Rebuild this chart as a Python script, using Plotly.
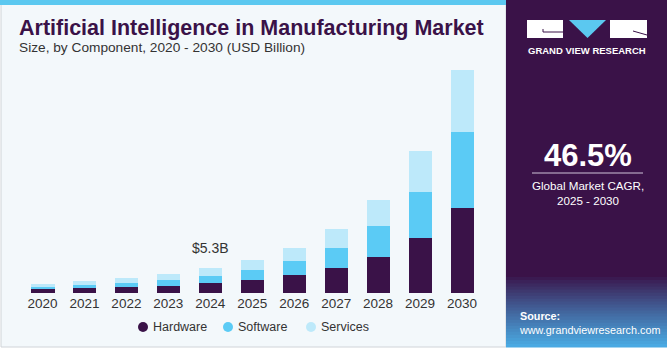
import plotly.graph_objects as go

years = ["2020", "2021", "2022", "2023", "2024", "2025", "2026", "2027", "2028", "2029", "2030"]
hardware = [0.79, 1.01, 1.29, 1.57, 2.08, 2.79, 3.86, 5.43, 7.79, 11.74, 18.24]
software = [0.56, 0.71, 0.92, 1.22, 1.57, 2.15, 3.07, 4.29, 6.59, 10.00, 16.30]
services = [0.64, 0.79, 0.94, 1.29, 1.65, 2.15, 2.73, 3.95, 5.58, 8.67, 13.30]
series_names = ["Hardware", "Software", "Services"]
series_colors = ["#3A1248", "#5BCBF5", "#BDE9FA"]
label_2024 = "$5.3B"

W, H = 670, 350
def px(x):
    return x / W
def py(y):
    return 1 - y / H

fig = go.Figure()
for name, vals, col in zip(series_names, [hardware, software, services], series_colors):
    fig.add_trace(go.Bar(x=years, y=vals, name=name, marker=dict(color=col, line=dict(width=0)),
                         width=0.55, hoverinfo="x+y+name", showlegend=False))

shapes = []
# left background
shapes.append(dict(type="rect", xref="paper", yref="paper", x0=px(1), x1=px(506), y0=py(347), y1=py(0),
                   fillcolor="#F3F8FB", line=dict(color="#D0D4D8", width=1), layer="below"))
# top blue strip
shapes.append(dict(type="rect", xref="paper", yref="paper", x0=px(0), x1=px(506), y0=py(5), y1=py(0),
                   fillcolor="#5BC8F0", line=dict(width=0), layer="below"))
# right panel
shapes.append(dict(type="rect", xref="paper", yref="paper", x0=px(506), x1=px(667), y0=py(347), y1=py(0),
                   fillcolor="#3A1248", line=dict(width=0), layer="below"))

# gradient source box
def lerp(c1, c2, t):
    a = [int(c1[i:i+2], 16) for i in (1, 3, 5)]
    b = [int(c2[i:i+2], 16) for i in (1, 3, 5)]
    return "#%02x%02x%02x" % tuple(int(a[k] + (b[k] - a[k]) * t) for k in range(3))
n = 24
y_start, y_end = 274, 347
for i in range(n):
    t = i / (n - 1)
    c = lerp("#3A1248", "#4AA9E2", t ** 0.9)
    y0 = y_start + (y_end - y_start) * i / n
    y1 = y_start + (y_end - y_start) * (i + 1) / n
    shapes.append(dict(type="rect", xref="paper", yref="paper", x0=px(506), x1=px(667), y0=py(y1 + 0.5), y1=py(y0),
                       fillcolor=c, line=dict(width=0), layer="below"))

# logo
shapes.append(dict(type="rect", xref="paper", yref="paper", x0=px(527), x1=px(563), y0=py(38), y1=py(20),
                   fillcolor="white", line=dict(width=0)))
shapes.append(dict(type="rect", xref="paper", yref="paper", x0=px(610), x1=px(647), y0=py(38), y1=py(20),
                   fillcolor="white", line=dict(width=0)))
shapes.append(dict(type="path", xref="paper", yref="paper",
                   path="M %f %f L %f %f L %f %f Z" % (px(569), py(20), px(606), py(20), px(587.5), py(38)),
                   fillcolor="#5BC8F0", line=dict(width=0)))
shapes.append(dict(type="path", xref="paper", yref="paper",
                   path="M %f %f L %f %f L %f %f" % (px(543), py(29), px(543), py(32), px(563), py(32)),
                   line=dict(color="#3A1248", width=1)))
shapes.append(dict(type="line", xref="paper", yref="paper", x0=px(633), y0=py(31), x1=px(647), y1=py(35),
                   line=dict(color="#3A1248", width=1)))
# CAGR divider
shapes.append(dict(type="line", xref="paper", yref="paper", x0=px(532), y0=py(173), x1=px(643), y1=py(173),
                   line=dict(color="#CFC3D8", width=1)))

ann = []
# manual legend
legend_marker_x = [143, 228, 311]
for name, col, mx in zip(series_names, series_colors, legend_marker_x):
    r = 5
    shapes.append(dict(type="circle", xref="paper", yref="paper", x0=px(mx - r), x1=px(mx + r),
                       y0=py(327 + r), y1=py(327 - r), fillcolor=col, line=dict(width=0)))
    ann.append(dict(text=name, x=px(mx + 8), y=py(327), xref="paper", yref="paper",
                    xanchor="left", yanchor="middle", showarrow=False,
                    font=dict(family="Liberation Sans", size=12.5, color="#333333")))

ann.append(dict(text="<b>Artificial Intelligence in Manufacturing Market</b>", x=px(17), y=py(28), xref="paper", yref="paper",
                xanchor="left", yanchor="middle", showarrow=False,
                font=dict(family="Liberation Sans", size=21.5, color="#3A1248")))
ann.append(dict(text="Size, by Component, 2020 - 2030 (USD Billion)", x=px(17), y=py(48), xref="paper", yref="paper",
                xanchor="left", yanchor="middle", showarrow=False,
                font=dict(family="Liberation Sans", size=13.7, color="#333333")))
total_2024 = hardware[4] + software[4] + services[4]
ann.append(dict(text=label_2024, x=4, y=total_2024, xref="x", yref="y",
                xanchor="center", yanchor="bottom", yshift=10, showarrow=False,
                font=dict(family="Liberation Sans", size=14, color="#333333")))
ann.append(dict(text="<b>GRAND VIEW RESEARCH</b>", x=px(587), y=py(51), xref="paper", yref="paper",
                xanchor="center", yanchor="middle", showarrow=False,
                font=dict(family="Liberation Sans", size=9.5, color="white")))
ann.append(dict(text="<b>46.5%</b>", x=px(588), y=py(155), xref="paper", yref="paper",
                xanchor="center", yanchor="middle", showarrow=False,
                font=dict(family="Liberation Sans", size=31, color="white")))
ann.append(dict(text="Global Market CAGR,<br>2025 - 2030", x=px(588), y=py(193), xref="paper", yref="paper",
                xanchor="center", yanchor="middle", showarrow=False,
                font=dict(family="Liberation Sans", size=11.6, color="white")))
ann.append(dict(text="<b>Source:</b><br>www.grandviewresearch.com", x=px(517), y=py(323), xref="paper", yref="paper",
                xanchor="left", yanchor="middle", showarrow=False, align="left",
                font=dict(family="Liberation Sans", size=10.8, color="white")))

fig.update_layout(
    width=W, height=H, margin=dict(l=0, r=0, t=0, b=0),
    paper_bgcolor="white", plot_bgcolor="rgba(0,0,0,0)",
    barmode="stack", bargap=0,
    shapes=shapes, annotations=ann,
    font=dict(family="Liberation Sans", color="#333333"),
    showlegend=False,
    xaxis=dict(domain=[px(21.5), px(483)], range=[-0.5, 10.5], type="category",
               showgrid=False, showline=False, zeroline=False, ticks="",
               tickfont=dict(size=13.5, color="#333333"), ticklabelstandoff=0),
    yaxis=dict(domain=[py(293), py(60)], range=[0, 50], showticklabels=False, showgrid=False,
               zeroline=False, showline=False, ticks=""),
)
fig.write_html("out.html")
